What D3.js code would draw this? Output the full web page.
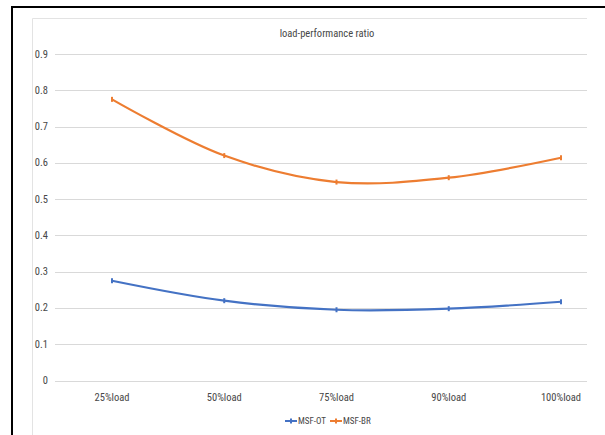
<!DOCTYPE html>
<html>
<head>
<meta charset="utf-8">
<script src="https://cdn.jsdelivr.net/npm/d3@7"></script>
<style>
  body { margin: 0; background: #fff; }
  text { font-family: "Liberation Sans Narrow", "Roboto Condensed", "Liberation Sans", Arial, sans-serif; fill: #474747; }
</style>
</head>
<body>
<svg id="chart" width="605" height="435"></svg>
<script>
var categories = ["25%load", "50%load", "75%load", "90%load", "100%load"];
var msfOT = [0.275, 0.22, 0.195, 0.198, 0.217];
var msfBR = [0.775, 0.62, 0.547, 0.559, 0.614];
var yTicks = [0, 0.1, 0.2, 0.3, 0.4, 0.5, 0.6, 0.7, 0.8, 0.9];
var seriesNames = ["MSF-OT", "MSF-BR"];
var colors = ["#4472C4", "#ED7D31"];

var svg = d3.select("#chart");

// outer black frame (cropped page)
svg.append("line").attr("x1", 12).attr("y1", 7).attr("x2", 605).attr("y2", 7)
  .attr("stroke", "#000").attr("stroke-width", 2);
svg.append("line").attr("x1", 12).attr("y1", 6).attr("x2", 12).attr("y2", 435)
  .attr("stroke", "#000").attr("stroke-width", 2);

// chart area border
svg.append("path").attr("d", "M32.5,435V18.5H587")
  .attr("fill", "none").attr("stroke", "#e3e3e3").attr("stroke-width", 1);

var x = d3.scalePoint().domain(categories).range([112, 561]);
var y = d3.scaleLinear().domain([0, 0.9]).range([380.5, 54]);

// gridlines
svg.append("g").selectAll("line").data(yTicks).enter().append("line")
  .attr("x1", 55).attr("x2", 587)
  .attr("y1", function(d){ return Math.round(y(d)) + 0.5; })
  .attr("y2", function(d){ return Math.round(y(d)) + 0.5; })
  .attr("stroke", "#d9d9d9").attr("stroke-width", 1);

// y labels
svg.append("g").selectAll("text").data(yTicks).enter().append("text")
  .attr("x", 48).attr("y", function(d){ return y(d) + 3.5; })
  .attr("text-anchor", "end").attr("font-size", 10.5)
  .text(function(d){ return d === 0 ? "0" : d3.format(".1f")(d); });

// x labels
svg.append("g").selectAll("text").data(categories).enter().append("text")
  .attr("x", function(d){ return x(d); }).attr("y", 401)
  .attr("text-anchor", "middle").attr("font-size", 10.5)
  .text(function(d){ return d; });

// title
svg.append("text").attr("x", 327).attr("y", 37).attr("text-anchor", "middle")
  .attr("font-size", 10.5).text("load-performance ratio");

var line = d3.line()
  .x(function(d, i){ return x(categories[i]); })
  .y(function(d){ return y(d); })
  .curve(d3.curveCatmullRom.alpha(0.5));

[msfOT, msfBR].forEach(function(s, k) {
  svg.append("path").datum(s).attr("d", line)
    .attr("fill", "none").attr("stroke", colors[k]).attr("stroke-width", 2.2);
  svg.append("g").selectAll("rect").data(s).enter().append("rect")
    .attr("x", function(d, i){ return x(categories[i]) - 1; })
    .attr("y", function(d){ return y(d) - 2.5; })
    .attr("width", 2).attr("height", 5)
    .attr("fill", colors[k]);
});

// legend
var legend = svg.append("g").selectAll("g").data(seriesNames).enter().append("g")
  .attr("transform", function(d, i){ return "translate(" + (285 + i * 45) + ",421)"; });
legend.append("line").attr("x1", 0).attr("x2", 12).attr("y1", 0).attr("y2", 0)
  .attr("stroke", function(d, i){ return colors[i]; }).attr("stroke-width", 2);
legend.append("rect").attr("x", 5).attr("y", -2.5).attr("width", 2).attr("height", 5)
  .attr("fill", function(d, i){ return colors[i]; });
legend.append("text").attr("x", 13).attr("y", 3).attr("font-size", 9)
  .text(function(d){ return d; });
</script>
</body>
</html>
